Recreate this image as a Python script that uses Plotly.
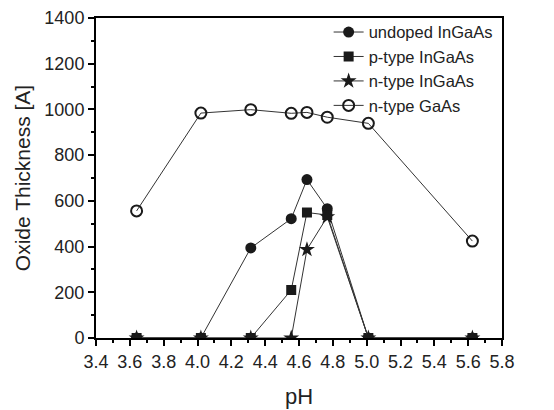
import plotly.graph_objects as go

ph = [3.64, 4.02, 4.315, 4.554, 4.647, 4.767, 5.01, 5.625]
undoped_ingaas = [0, 0, 394, 522, 693, 566, 0, 0]
p_type_ingaas = [0, 0, 0, 210, 549, 538, 0, 0]
n_type_ingaas = [0, 0, 0, 0, 387, 530, 0, 0]
n_type_gaas = [556, 984, 999, 983, 987, 966, 939, 424]

font = "Liberation Sans, Arial, sans-serif"
lc = "#333333"
mc = "#1a1a1a"

fig = go.Figure()
series = [
    ("undoped InGaAs", undoped_ingaas, dict(symbol="circle", size=11, color=mc)),
    ("p-type InGaAs", p_type_ingaas, dict(symbol="square", size=10, color=mc)),
    ("n-type InGaAs", n_type_ingaas, dict(symbol="star", size=12, color=mc)),
    ("n-type GaAs", n_type_gaas, dict(symbol="circle-open", size=11, color=mc, line=dict(width=2, color=mc))),
]
for name, vals, marker in series:
    fig.add_trace(go.Scatter(
        x=ph, y=vals, name=name, mode="lines+markers",
        line=dict(color=lc, width=1), marker=marker,
    ))

axis_common = dict(
    showline=True, linecolor="black", linewidth=2, mirror=True,
    ticks="outside", tickcolor="black", tickwidth=2, ticklen=6,
    showgrid=False, zeroline=False, automargin=False,
    tickfont=dict(family=font, size=18, color="#222"),
)
fig.update_xaxes(
    range=[3.4, 5.8], dtick=0.2, tick0=3.4, tickformat=".1f",
    minor=dict(dtick=0.1, ticks="outside", ticklen=3, tickwidth=2, tickcolor="black"),
    title=dict(text="pH", font=dict(family=font, size=22, color="#222"), standoff=18),
    **axis_common,
)
fig.update_yaxes(
    range=[0, 1400], dtick=200,
    minor=dict(dtick=100, ticks="outside", ticklen=3, tickwidth=2, tickcolor="black"),
    title=dict(text="Oxide Thickness [A]", font=dict(family=font, size=21, color="#222"), standoff=8),
    **axis_common,
)
fig.update_layout(
    width=554, height=410,
    margin=dict(l=96, r=52, t=18, b=72),
    plot_bgcolor="white", paper_bgcolor="white",
    legend=dict(x=0.573, y=1.01, xanchor="left", yanchor="top",
                bgcolor="rgba(0,0,0,0)", font=dict(family=font, size=16.5, color="#222"),
                tracegroupgap=0),
)
fig.write_html("out.html")
